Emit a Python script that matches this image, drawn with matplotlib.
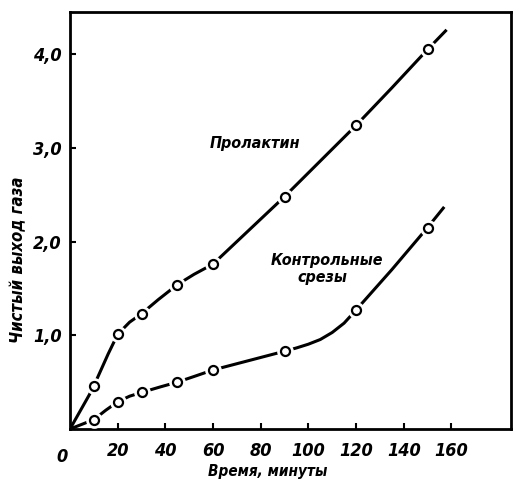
import matplotlib.pyplot as plt

# measured points (minutes, net gas yield)
prl_t = [10, 20, 30, 45, 60, 90, 120, 150]
prl_y = [0.46, 1.01, 1.23, 1.54, 1.76, 2.48, 3.24, 4.05]
ctl_t = [10, 20, 30, 45, 60, 90, 120, 150]
ctl_y = [0.10, 0.29, 0.39, 0.50, 0.63, 0.83, 1.27, 2.15]

# hand-drawn curves
prl_curve_t = [0, 4, 8, 10, 13, 16, 20, 25, 30, 37, 45, 52, 60, 90, 105, 120, 135, 150, 158]
prl_curve_y = [0.0, 0.18, 0.36, 0.46, 0.63, 0.80, 1.01, 1.14, 1.23, 1.38, 1.54, 1.65, 1.76, 2.48, 2.86, 3.24, 3.64, 4.05, 4.26]
ctl_curve_t = [0, 5, 10, 15, 20, 25, 30, 38, 45, 52, 60, 75, 90, 95, 100, 105, 110, 115, 120, 135, 150, 157]
ctl_curve_y = [0.0, 0.05, 0.10, 0.20, 0.29, 0.35, 0.39, 0.45, 0.50, 0.56, 0.63, 0.73, 0.83, 0.865, 0.905, 0.955, 1.03, 1.13, 1.27, 1.70, 2.15, 2.37]

x_ticks = [20, 40, 60, 80, 100, 120, 140, 160]
y_ticks = [1.0, 2.0, 3.0, 4.0]
y_labels = ["1,0", "2,0", "3,0", "4,0"]

font = dict(family=["DejaVu Sans"], style="italic", weight="bold", stretch="condensed")

fig = plt.figure(figsize=(5.15, 4.88), dpi=100)
ax = fig.add_axes([0.1359, 0.1209, 0.8563, 0.8545])

for ct, cy, pt, py in [(prl_curve_t, prl_curve_y, prl_t, prl_y),
                       (ctl_curve_t, ctl_curve_y, ctl_t, ctl_y)]:
    ax.plot(ct, cy, color="black", lw=2.2, solid_capstyle="butt", zorder=2)
    # white halo breaks the line around each point
    ax.plot(pt, py, "o", ms=11, mfc="white", mec="white", zorder=3)
    ax.plot(pt, py, "o", ms=6.5, mfc="white", mec="black", mew=1.6, zorder=4)

ax.set_xlim(0, 185)
ax.set_ylim(0, 4.45)

ax.set_xticks(x_ticks)
ax.set_xticklabels([str(v) for v in x_ticks], fontsize=13, **font)
ax.set_yticks(y_ticks)
ax.set_yticklabels(y_labels, fontsize=13, **font)
ax.tick_params(axis="both", direction="in", length=4, width=1.5)
ax.tick_params(axis="x", pad=9)
ax.tick_params(axis="y", pad=6)
for s in ax.spines.values():
    s.set_linewidth(2.0)

ax.annotate("0", xy=(0, 0), xytext=(-6, -14), textcoords="offset points",
            ha="center", va="top", fontsize=13, **font)

ax.set_xlabel("Время, минуты", fontsize=11, **font)
ax.set_ylabel("Чистый выход газа", fontsize=12, **font)
ax.xaxis.set_label_coords(0.449, -0.085)
ax.yaxis.set_label_coords(-0.097, 0.405)

ax.text(77.5, 3.05, "Пролактин", fontsize=11.5, ha="center", va="center", **font)
ax.text(108, 1.80, "Контрольные", fontsize=11.5, ha="center", va="center", **font)
ax.text(106, 1.62, "срезы", fontsize=11.5, ha="center", va="center", **font)

fig.savefig("out.png", dpi=100)
